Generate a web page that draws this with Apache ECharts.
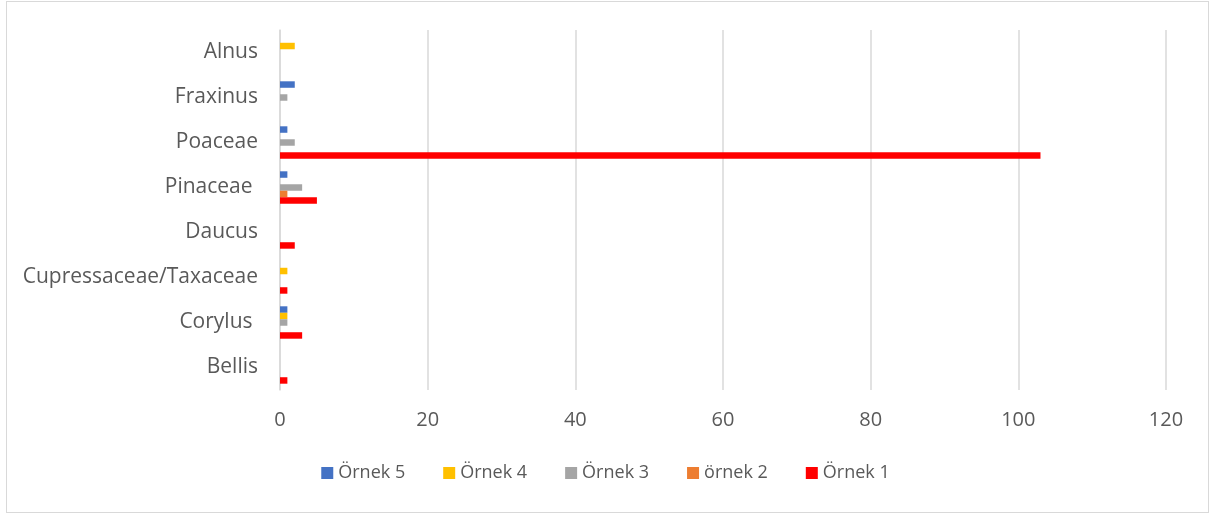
<!DOCTYPE html>
<html>
<head>
<meta charset="utf-8">
<script src="https://cdn.jsdelivr.net/npm/echarts@6/dist/echarts.min.js"></script>
<style>
  html, body { margin: 0; padding: 0; background: #fff; }
  #frame { position: absolute; left: 6px; top: 1px; width: 1201px; height: 510px; border: 1px solid #d9d9d9; }
  #visualisation { width: 1211px; height: 514px; }
</style>
</head>
<body>
<div id="frame"></div>
<div id="visualisation"></div>
<script>
// Categorieën van onder naar boven
const categories = ['Bellis', 'Corylus ', 'Cupressaceae/Taxaceae', 'Daucus', 'Pinaceae ', 'Poaceae', 'Fraxinus', 'Alnus'];
const ornek1 = [1, 3, 1, 2, 5, 103, 0, 0];
const ornek2 = [0, 0, 0, 0, 1, 0, 0, 0];
const ornek3 = [0, 1, 0, 0, 3, 2, 1, 0];
const ornek4 = [0, 1, 1, 0, 0, 0, 0, 2];
const ornek5 = [0, 1, 0, 0, 1, 1, 2, 0];
const xTicks = { min: 0, max: 120, interval: 20 };

function drawVisualisation() {
    let visualisation = echarts.init(document.getElementById('visualisation'));
    window.onresize = () => visualisation.resize();

    const font = '"Open Sans", "Liberation Sans", sans-serif';
    const bar = (name, data, color) => ({
        name: name,
        type: 'bar',
        data: data.map(v => v === 0 ? null : v),
        itemStyle: { color: color },
        barGap: '0%',
        barCategoryGap: '28%'
    });

    let option = {
        animation: false,
        textStyle: { fontFamily: font },
        grid: { left: 280, right: 45, top: 30, bottom: 124, containLabel: false },
        legend: {
            data: ['Örnek 5', 'Örnek 4', 'Örnek 3', 'örnek 2', 'Örnek 1'],
            bottom: 27,
            left: 'center',
            icon: 'rect',
            itemWidth: 12,
            itemHeight: 12,
            itemGap: 38,
            textStyle: { fontSize: 18, color: '#595959', fontFamily: font }
        },
        xAxis: {
            type: 'value',
            min: xTicks.min,
            max: xTicks.max,
            interval: xTicks.interval,
            axisLine: { show: false },
            axisTick: { show: false },
            splitLine: { lineStyle: { color: '#d9d9d9', width: 1.5 } },
            axisLabel: { fontSize: 20, color: '#595959', margin: 20 }
        },
        yAxis: {
            type: 'category',
            data: categories,
            axisLine: { show: true, lineStyle: { color: '#d9d9d9', width: 1.5 } },
            axisTick: { show: false },
            axisLabel: { fontSize: 21, color: '#595959', margin: 22 }
        },
        series: [
            bar('Örnek 5', ornek5, '#4472c4'),
            bar('Örnek 4', ornek4, '#ffc000'),
            bar('Örnek 3', ornek3, '#a5a5a5'),
            bar('örnek 2', ornek2, '#ed7d31'),
            bar('Örnek 1', ornek1, '#ff0000')
        ]
    };

    visualisation.setOption(option);
}

window.addEventListener('load', drawVisualisation);
</script>
</body>
</html>
